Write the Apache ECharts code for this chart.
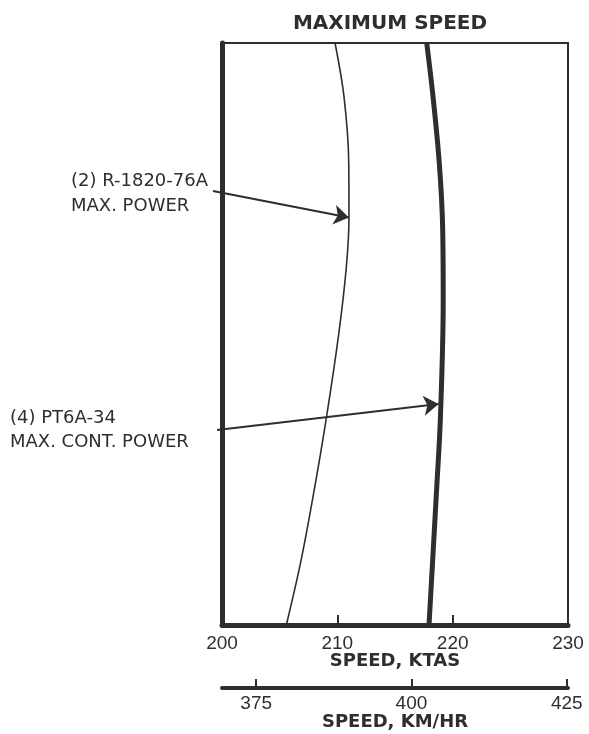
<!DOCTYPE html>
<html>
<head>
<meta charset="utf-8">
<script src="https://cdn.jsdelivr.net/npm/echarts@6/dist/echarts.min.js"></script>
<style>html,body{margin:0;padding:0;background:#fff}#c{width:589px;height:734px}</style>
</head>
<body>
<div id="c"></div>
<script>
// Speed in knots true airspeed vs altitude (relative units, bottom = 0, top = 30)
const ktasTicks = [200, 210, 220, 230];
const kmhTicks = [375, 400, 425];
const r1820Alt = [0, 3.2, 6.6, 10.72, 15.05, 18.45, 21.03, 23.81, 27.22, 30];
const r1820Speed = [205.58, 206.81, 207.89, 209.06, 210.13, 210.78, 211.01, 210.99, 210.58, 209.80];
const pt6aAlt = [0, 7.11, 10.57, 16.75, 20.52, 23.81, 27.22, 30];
const pt6aSpeed = [217.95, 218.62, 218.93, 219.18, 219.13, 218.84, 218.30, 217.75];
// callout arrows: [start speed, start alt] -> [end speed, end alt]
const arrowR1820 = [[199.22, 22.37], [211.0, 21.0]];
const arrowPT6A = [[199.57, 10.05], [218.78, 11.39]];
const labelR1820 = ['(2) R-1820-76A', 'MAX. POWER'];
const labelPT6A = ['(4) PT6A-34', 'MAX. CONT. POWER'];

const ink = '#2e2e2e';
const chart = echarts.init(document.getElementById('c'), null, {renderer: 'canvas'});
const zip = (xs, ys) => xs.map((x, i) => [x, ys[i]]);
const noteFont = '18px "DejaVu Sans"';

chart.setOption({
  backgroundColor: '#fff',
  animation: false,
  title: {
    text: 'MAXIMUM SPEED',
    left: 385, top: 9, textAlign: 'center',
    textStyle: {fontFamily: 'DejaVu Sans', fontWeight: 'bold', fontSize: 20, color: ink}
  },
  grid: {left: 222, right: 21, top: 43, bottom: 109, outerBoundsMode: 'none', containLabel: false,
    show: true, borderColor: ink, borderWidth: 2, backgroundColor: 'transparent'},
  xAxis: [{
    type: 'value', min: 200, max: 230, interval: 10, position: 'bottom',
    axisLine: {show: true, onZero: false, lineStyle: {color: ink, width: 5}},
    axisTick: {show: true, inside: true, length: 10, lineStyle: {color: ink, width: 2}},
    axisLabel: {margin: 9, fontFamily: 'Liberation Sans', fontSize: 19, color: ink,
      customValues: ktasTicks},
    splitLine: {show: false},
    name: 'SPEED, KTAS', nameLocation: 'middle', nameGap: 27, nameMoveOverlap: false,
    nameTextStyle: {fontFamily: 'DejaVu Sans', fontWeight: 'bold', fontSize: 18, color: ink}
  }, {
    type: 'value', min: 369.5, max: 425.2, position: 'bottom', offset: 63,
    axisLine: {show: true, onZero: false, lineStyle: {color: ink, width: 4, cap: 'round'}},
    axisTick: {show: true, inside: true, length: 9, lineStyle: {color: ink, width: 2}, customValues: kmhTicks},
    axisLabel: {margin: 6, fontFamily: 'Liberation Sans', fontSize: 19, color: ink, customValues: kmhTicks},
    splitLine: {show: false},
    name: 'SPEED, KM/HR', nameLocation: 'middle', nameGap: 25, nameMoveOverlap: false,
    nameTextStyle: {fontFamily: 'DejaVu Sans', fontWeight: 'bold', fontSize: 18, color: ink}
  }],
  yAxis: {
    type: 'value', min: 0, max: 30,
    axisLine: {show: true, lineStyle: {color: ink, width: 5}},
    axisTick: {show: false}, axisLabel: {show: false}, splitLine: {show: false}
  },
  series: [{
    name: 'R-1820', type: 'line', xAxisIndex: 0, smooth: 0.35, symbol: 'none',
    lineStyle: {color: ink, width: 1.6},
    data: zip(r1820Speed, r1820Alt)
  }, {
    name: 'PT6A', type: 'line', xAxisIndex: 0, smooth: 0.35, symbol: 'none',
    lineStyle: {color: ink, width: 5},
    data: zip(pt6aSpeed, pt6aAlt)
  }, {
    type: 'lines', coordinateSystem: 'cartesian2d', xAxisIndex: 0, clip: false,
    symbol: ['none', 'arrow'], symbolSize: [9, 15],
    lineStyle: {color: ink, width: 2, opacity: 1},
    data: [{coords: arrowR1820}, {coords: arrowPT6A}]
  }],
  graphic: [
    {type: 'text', left: 71, top: 172, style: {text: labelR1820[0], font: noteFont, fill: ink}},
    {type: 'text', left: 71, top: 197, style: {text: labelR1820[1], font: noteFont, fill: ink}},
    {type: 'text', left: 10, top: 409, style: {text: labelPT6A[0], font: noteFont, fill: ink}},
    {type: 'text', left: 10, top: 433, style: {text: labelPT6A[1], font: noteFont, fill: ink}}
  ]
});
</script>
</body>
</html>
